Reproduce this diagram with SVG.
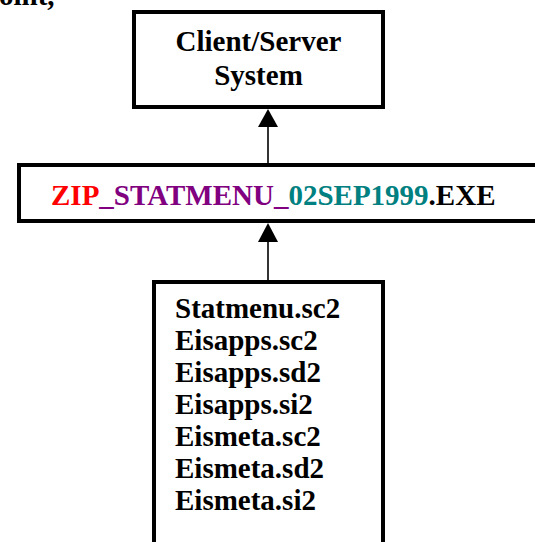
<svg xmlns="http://www.w3.org/2000/svg" width="535" height="542" viewBox="0 0 535 542">
<style>
.box{fill:#fff;stroke:#000;stroke-width:4}
.t{font-family:"Liberation Serif","Times New Roman",serif;font-weight:bold;font-size:29px;fill:#000}
.conn line{stroke:#000;stroke-width:1.6}
.conn polygon{fill:#000}
</style>
<rect width="535" height="542" fill="#fff"/>
<text class="t" x="-1" y="5">oint,</text>
<g id="client-server">
<rect class="box" x="134" y="12" width="249" height="95"/>
<text class="t" x="258.5" y="51" text-anchor="middle">Client/Server</text>
<text class="t" x="258.5" y="85" text-anchor="middle">System</text>
</g>
<g id="zip-exe">
<rect class="box" x="19" y="165" width="530" height="56"/>
<text class="t" x="51" y="205"><tspan fill="#ff0000">ZIP</tspan><tspan fill="#800080">_STATMENU_</tspan><tspan fill="#008080">02SEP1999</tspan>.EXE</text>
</g>
<g id="files">
<rect class="box" x="154" y="282" width="229" height="280"/>
<text class="t" x="175" y="318">Statmenu.sc2</text>
<text class="t" x="175" y="350">Eisapps.sc2</text>
<text class="t" x="175" y="382">Eisapps.sd2</text>
<text class="t" x="175" y="414">Eisapps.si2</text>
<text class="t" x="175" y="446">Eismeta.sc2</text>
<text class="t" x="175" y="478">Eismeta.sd2</text>
<text class="t" x="175" y="510">Eismeta.si2</text>
</g>
<g id="connectors" class="conn">
<line x1="268" y1="163" x2="268" y2="125"/>
<polygon points="268,109 258,127 278,127"/>
<line x1="268" y1="280" x2="268" y2="240"/>
<polygon points="268,223 258,242 278,242"/>
</g>
</svg>
